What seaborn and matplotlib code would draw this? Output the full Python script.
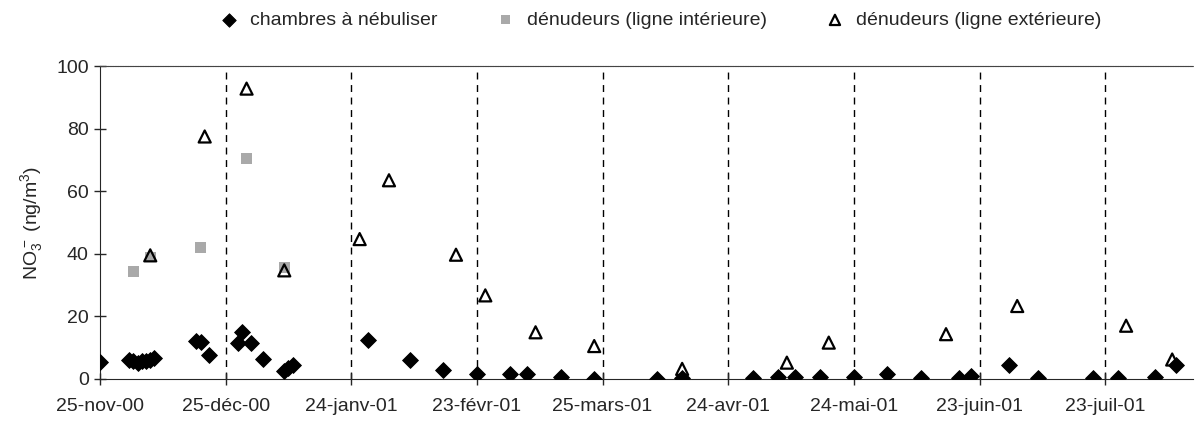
import pandas as pd
import matplotlib
matplotlib.use("Agg")
import matplotlib.pyplot as plt
import seaborn as sns

# dates et valeurs
chambres_dates = ['2000-11-25', '2000-12-02', '2000-12-03', '2000-12-04', '2000-12-05',
                  '2000-12-06', '2000-12-07', '2000-12-08', '2000-12-18', '2000-12-19',
                  '2000-12-21', '2000-12-28', '2000-12-29', '2000-12-31', '2001-01-03',
                  '2001-01-08', '2001-01-09', '2001-01-10', '2001-01-28', '2001-02-07',
                  '2001-02-15', '2001-02-23', '2001-03-03', '2001-03-07', '2001-03-15',
                  '2001-03-23', '2001-04-07', '2001-04-13', '2001-04-30', '2001-05-06',
                  '2001-05-10', '2001-05-16', '2001-05-24', '2001-06-01', '2001-06-09',
                  '2001-06-18', '2001-06-21', '2001-06-30', '2001-07-07', '2001-07-20',
                  '2001-07-26', '2001-08-04', '2001-08-09']
chambres_vals = [5.3, 6.0, 5.6, 5.2, 5.7, 5.6, 6.0, 6.6, 12.0, 11.7,
                 7.8, 11.6, 14.9, 11.6, 6.4, 2.5, 3.5, 4.6, 12.3, 5.9,
                 2.7, 1.5, 1.5, 1.5, 0.7, 0.1, 0.1, 0.2, 0.2, 0.6,
                 0.6, 0.7, 0.7, 1.5, 0.3, 0.2, 0.9, 4.3, 0.2, 0.3,
                 0.3, 0.5, 4.3]

int_dates = ['2000-12-03', '2000-12-07', '2000-12-19', '2000-12-30', '2001-01-08']
int_vals = [34.3, 39.0, 42.0, 70.5, 35.5]

ext_dates = ['2000-12-07', '2000-12-20', '2000-12-30', '2001-01-08', '2001-01-26',
             '2001-02-02', '2001-02-18', '2001-02-25', '2001-03-09', '2001-03-23',
             '2001-04-13', '2001-05-08', '2001-05-18', '2001-06-15', '2001-07-02',
             '2001-07-28', '2001-08-08']
ext_vals = [39.5, 77.5, 92.8, 34.7, 44.7, 63.5, 39.7, 26.7, 14.9, 10.5,
            3.2, 5.2, 11.6, 14.3, 23.3, 17.0, 6.2]

tick_dates = ['2000-11-25', '2000-12-25', '2001-01-24', '2001-02-23', '2001-03-25',
              '2001-04-24', '2001-05-24', '2001-06-23', '2001-07-23']
tick_labels = ['25-nov-00', '25-déc-00', '24-janv-01', '23-févr-01', '25-mars-01',
               '24-avr-01', '24-mai-01', '23-juin-01', '23-juil-01']

df_ch = pd.DataFrame({'date': pd.to_datetime(chambres_dates), 'no3': chambres_vals})
df_int = pd.DataFrame({'date': pd.to_datetime(int_dates), 'no3': int_vals})
df_ext = pd.DataFrame({'date': pd.to_datetime(ext_dates), 'no3': ext_vals})
ticks = pd.to_datetime(tick_dates)

sns.set_style('ticks')
plt.rcParams['font.family'] = ['Liberation Sans', 'DejaVu Sans']
plt.rcParams['mathtext.default'] = 'regular'

fig = plt.figure(figsize=(11.96, 4.21), dpi=100)
ax = fig.add_axes([0.0836, 0.10, 0.914, 0.743])

# lignes verticales pointillées
for t in ticks[1:]:
    ax.axvline(t, color='black', linestyle=(0, (5, 4)), linewidth=1.0, zorder=0)

sns.scatterplot(x='date', y='no3', data=df_int, marker='s', s=60, color='#a9a9a9',
                edgecolor='none', label='dénudeurs (ligne intérieure)', ax=ax, zorder=2)
sns.scatterplot(x='date', y='no3', data=df_ext, marker='^', s=75, facecolors='none',
                edgecolor='black', linewidth=1.6, label='dénudeurs (ligne extérieure)', ax=ax, zorder=3)
sns.scatterplot(x='date', y='no3', data=df_ch, marker='D', s=65, color='black',
                edgecolor='black', label='chambres à nébuliser', ax=ax, zorder=4)

ax.set_xlim(pd.Timestamp('2000-11-25'), pd.Timestamp('2001-08-13'))
ax.set_ylim(0, 100)
ax.set_yticks([0, 20, 40, 60, 80, 100])
ax.set_xticks(ticks)
ax.set_xticklabels(tick_labels)
ax.tick_params(axis='both', direction='inout', length=8, width=1, labelsize=14, pad=4)
ax.tick_params(axis='x', pad=10)

ax.spines['right'].set_visible(False)
ax.spines['top'].set_linestyle((0, (1, 0.5)))
ax.spines['top'].set_color('#444444')

ax.set_xlabel('')
ax.set_ylabel('NO$_3^-$ (ng/m$^3$)', fontsize=14, labelpad=8)

handles, labels = ax.get_legend_handles_labels()
order = [2, 0, 1]
ax.legend_.remove()
fig.legend([handles[i] for i in order], [labels[i] for i in order],
           loc='center', bbox_to_anchor=(0.548, 0.952), ncol=3, frameon=False,
           fontsize=14, handletextpad=0.1, columnspacing=2.5, markerscale=0.85)

fig.savefig('out.png', dpi=100)
